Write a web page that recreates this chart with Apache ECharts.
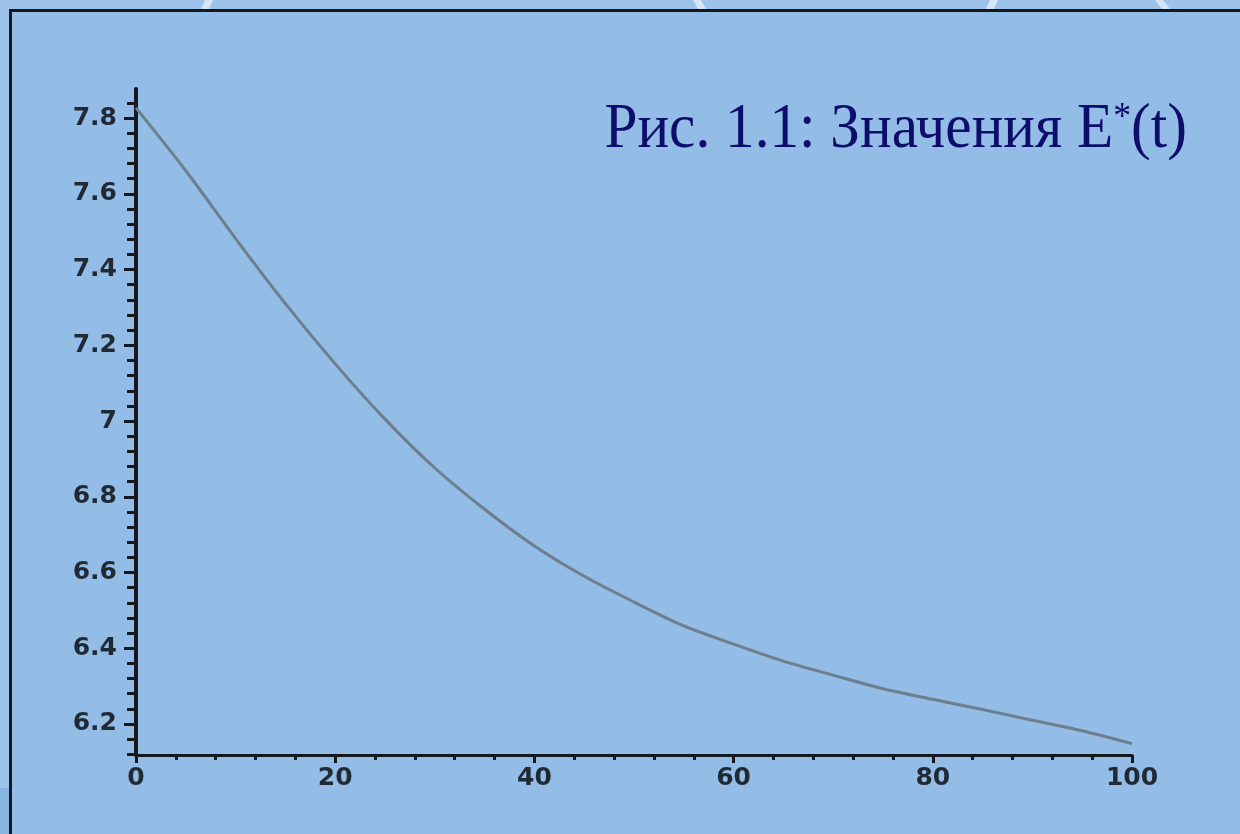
<!DOCTYPE html>
<html>
<head>
<meta charset="utf-8">
<script src="https://cdn.jsdelivr.net/npm/echarts@6/dist/echarts.min.js"></script>
<style>
html,body{margin:0;padding:0;background:#93bce6;}
#chart{width:1240px;height:834px;}
</style>
</head>
<body>
<div id="chart"></div>
<script>
// ---- data ----
const tValues = [0, 5, 10, 15, 20, 25, 30, 35, 40, 45, 50, 55, 60, 65, 70, 75, 80, 85, 90, 95, 100];
const eValues = [7.827, 7.661, 7.482, 7.310, 7.151, 7.005, 6.876, 6.767, 6.670, 6.590, 6.522, 6.459, 6.411, 6.366, 6.329, 6.293, 6.265, 6.238, 6.210, 6.182, 6.148];
const xMajorTicks = [0, 20, 40, 60, 80, 100];
const yMajorTicks = [6.2, 6.4, 6.6, 6.8, 7.0, 7.2, 7.4, 7.6, 7.8];
const titleMain = 'Рис. 1.1: Значения E';
const titleSup = '*';
const titleTail = '(t)';

// minor tick positions (every 0.04 on y)
const yMinorTicks = [];
for (let k = 153; k <= 196; k++) yMinorTicks.push(+(k * 0.04).toFixed(2));

const seriesData = tValues.map((t, i) => [t, eValues[i]]);

const axisColor = '#15191d';
const labelStyle = {
  color: '#1f2a35',
  fontFamily: 'DejaVu Sans',
  fontWeight: 'bold',
  fontSize: 25
};

const chart = echarts.init(document.getElementById('chart'), null, {renderer: 'canvas'});
chart.setOption({
  backgroundColor: '#93bce6',
  animation: false,
  grid: {left: 136, top: 89, width: 996, height: 666, containLabel: false},
  xAxis: [
    {
      type: 'value', min: 0, max: 100, interval: 20, position: 'bottom',
      axisLine: {show: true, onZero: false, lineStyle: {color: axisColor, width: 3}},
      axisTick: {show: true, length: 8, lineStyle: {color: axisColor, width: 3}},
      axisLabel: Object.assign({margin: 11}, labelStyle),
      splitLine: {show: false}
    },
    {
      type: 'value', min: 0, max: 100, interval: 4, position: 'bottom',
      axisLine: {show: false, onZero: false},
      axisTick: {show: true, length: 5, lineStyle: {color: axisColor, width: 3}},
      axisLabel: {show: false},
      splitLine: {show: false}
    }
  ],
  yAxis: [
    {
      type: 'value', min: 6.118, max: 7.877, position: 'left',
      axisLine: {show: true, onZero: false, lineStyle: {color: axisColor, width: 4}},
      axisTick: {show: true, length: 12, customValues: yMajorTicks, lineStyle: {color: axisColor, width: 3}},
      axisLabel: Object.assign({margin: 19, customValues: yMajorTicks}, labelStyle),
      splitLine: {show: false}
    },
    {
      type: 'value', min: 6.118, max: 7.877, position: 'left',
      axisLine: {show: false, onZero: false},
      axisTick: {show: true, length: 9, customValues: yMinorTicks, lineStyle: {color: axisColor, width: 3}},
      axisLabel: {show: false},
      splitLine: {show: false}
    }
  ],
  series: [{
    type: 'line',
    xAxisIndex: 0,
    yAxisIndex: 0,
    data: seriesData,
    smooth: 0.3,
    showSymbol: false,
    lineStyle: {color: '#6d7e8d', width: 3}
  }],
  graphic: [
    {type: 'rect', shape: {x: 0, y: 0, width: 1240, height: 9}, style: {fill: '#9dc3ea'}, z: -10},
    {type: 'rect', shape: {x: 0, y: 0, width: 9, height: 834}, style: {fill: '#9dc3ea'}, z: -10},
    {type: 'rect', shape: {x: 0, y: 788, width: 9, height: 46}, style: {fill: '#86b4e3'}, z: -9},
    {type: 'polygon', shape: {points: [[201, 9], [205, 0], [213, 0], [209, 9]]}, style: {fill: 'rgba(225,238,250,0.8)'}, z: -8},
    {type: 'polygon', shape: {points: [[693, 0], [701, 0], [706, 9], [698, 9]]}, style: {fill: 'rgba(225,238,250,0.8)'}, z: -8},
    {type: 'polygon', shape: {points: [[986, 9], [990, 0], [998, 0], [994, 9]]}, style: {fill: 'rgba(225,238,250,0.8)'}, z: -8},
    {type: 'polygon', shape: {points: [[1155, 0], [1163, 0], [1170, 9], [1162, 9]]}, style: {fill: 'rgba(225,238,250,0.8)'}, z: -8},
    {type: 'polyline', shape: {points: [[10.5, 834], [10.5, 10.5], [1240, 10.5]]}, style: {stroke: '#15191d', lineWidth: 3, fill: null}, z: 10},
    {
      type: 'text',
      x: 1187,
      y: 99,
      scaleX: 0.94,
      z: 20,
      style: {
        text: '{m|' + titleMain + '}{s|' + titleSup + '}{m|' + titleTail + '}',
        align: 'right',
        verticalAlign: 'top',
        rich: {
          m: {fontFamily: 'Liberation Serif', fontWeight: 'normal', fontSize: 63, fill: '#0d0d6b'},
          s: {fontFamily: 'Liberation Serif', fontWeight: 'normal', fontSize: 38, fill: '#0d0d6b', verticalAlign: 'top'}
        }
      }
    }
  ]
});
</script>
</body>
</html>
